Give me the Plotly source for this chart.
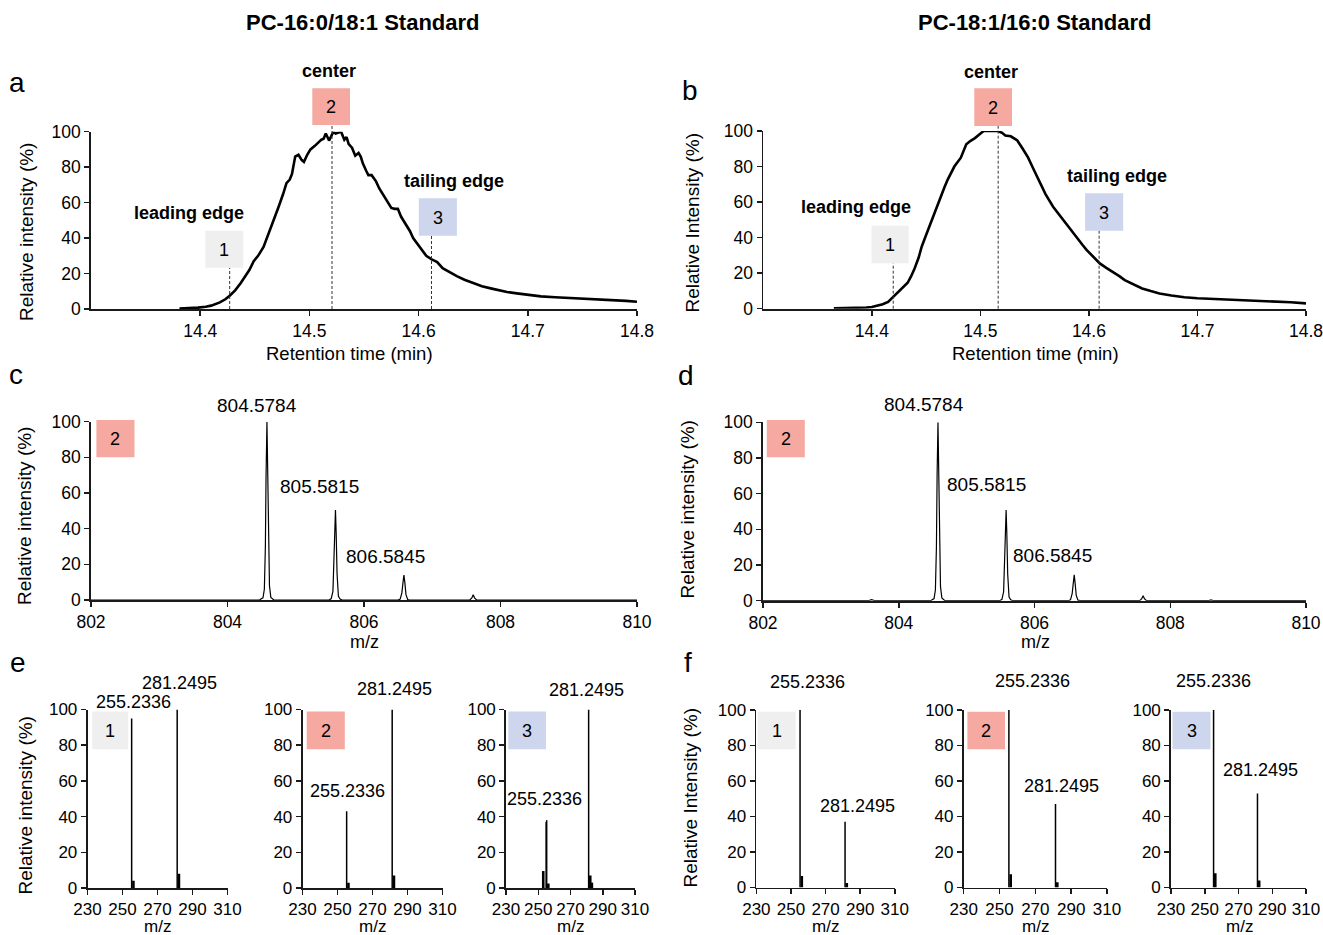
import plotly.graph_objects as go

W, H = 1323, 935
FONT = "Liberation Sans, Arial, Helvetica, sans-serif"

# ---------------- data ----------------
# panel a : PC-16:0/18:1 chromatogram
rt_a = [14.381, 14.390, 14.398, 14.405, 14.410, 14.418, 14.423, 14.427, 14.432, 14.437,
        14.441, 14.445, 14.449, 14.453, 14.458, 14.463, 14.468, 14.472, 14.476, 14.479,
        14.482, 14.484, 14.487, 14.490, 14.493, 14.495, 14.498, 14.501, 14.505, 14.508,
        14.511, 14.513, 14.515, 14.518, 14.520, 14.522, 14.524, 14.526, 14.529, 14.532,
        14.534, 14.536, 14.539, 14.542, 14.545, 14.547, 14.549, 14.552, 14.554, 14.557,
        14.559, 14.561, 14.564, 14.567, 14.570, 14.572, 14.575, 14.578, 14.581, 14.584,
        14.588, 14.592, 14.595, 14.598, 14.602, 14.607, 14.612, 14.617, 14.622, 14.629,
        14.635, 14.642, 14.650, 14.658, 14.667, 14.675, 14.681, 14.690, 14.700, 14.712,
        14.725, 14.740, 14.758, 14.775, 14.790, 14.800]
int_a = [0.3, 0.5, 0.8, 1.3, 1.9, 3.7, 5.5, 7.5, 10.5, 14.5,
         18, 22, 27, 30, 35, 43, 51, 58, 65, 71,
         73, 76, 86, 87, 84, 83, 87, 90, 92, 94,
         95.5, 96, 99, 95, 98, 100, 99, 99.5, 100, 95.5,
         97, 93, 91, 86.5, 88, 86, 82, 78, 75.5, 75.5,
         74, 72, 68, 65, 62, 59.5, 57, 56.5, 56.5, 52,
         48, 44, 40, 37.5, 34, 30, 28, 26.5, 23, 20.5,
         18.5, 16.5, 14.5, 12.8, 11.5, 10.3, 9.6, 8.8, 8.0, 7.1,
         6.6, 6.2, 5.7, 5.1, 4.6, 4.1]

# panel b : PC-18:1/16:0 chromatogram
rt_b = [14.365, 14.380, 14.388, 14.395, 14.400, 14.405, 14.410, 14.415, 14.420, 14.424,
        14.428, 14.433, 14.436, 14.439, 14.443, 14.446, 14.450, 14.454, 14.459, 14.464,
        14.467, 14.470, 14.473, 14.476, 14.482, 14.487, 14.491, 14.495, 14.499, 14.503,
        14.509, 14.516, 14.520, 14.523, 14.528, 14.534, 14.539, 14.544, 14.549, 14.554,
        14.560, 14.567, 14.573, 14.579, 14.584, 14.589, 14.594, 14.598, 14.604, 14.610,
        14.616, 14.622, 14.628, 14.633, 14.641, 14.649, 14.657, 14.665, 14.676, 14.688,
        14.700, 14.711, 14.730, 14.750, 14.770, 14.786, 14.800]
int_b = [0.2, 0.3, 0.4, 0.7, 1.0, 1.6, 2.5, 3.8, 6.8, 9.5,
         11.4, 14.6, 18, 22, 28.5, 35, 41.5, 48, 56, 64,
         68.5, 72.8, 76.5, 80, 85, 92.5, 94.5, 96, 98, 100,
         100, 100, 99, 97.5, 97, 94.7, 90, 85, 78.5, 71.9,
         64.5, 57.4, 52.5, 48, 43.5, 39.6, 36, 33, 29, 25.5,
         23, 20.8, 18.3, 16.1, 13.6, 11.4, 9.9, 8.6, 7.4, 6.4,
         5.9, 5.6, 5.2, 4.9, 4.2, 3.6, 3.0]

# panel c / d : MS1 profile spectra
mz_c = [802.00, 803.55, 803.60, 803.65, 804.47, 804.50, 804.52, 804.54, 804.555, 804.565,
        804.578, 804.59, 804.60, 804.615, 804.635, 804.655, 804.68, 805.49, 805.52, 805.545,
        805.56, 805.572, 805.582, 805.592, 805.605, 805.625, 805.65, 805.68, 806.50, 806.53,
        806.555, 806.572, 806.585, 806.598, 806.615, 806.64, 806.67, 807.55, 807.58, 807.60,
        807.62, 807.65, 808.56, 808.60, 808.64, 810.00]
int_c = [0, 0, 0.4, 0, 0, 0.8, 1.2, 6, 30, 70,
         100, 70, 35, 8, 1.5, 1.0, 0, 0, 0.8, 5,
         20, 38, 50.5, 38, 15, 2, 0.5, 0, 0, 0.5,
         4, 10, 14, 10, 3, 0.3, 0, 0, 1.2, 3,
         1.2, 0, 0, 0.4, 0, 0]
mz_d = [802.00, 803.55, 803.60, 803.65, 804.47, 804.50, 804.52, 804.54, 804.555, 804.565,
        804.578, 804.59, 804.60, 804.615, 804.635, 804.655, 804.68, 805.49, 805.52, 805.545,
        805.56, 805.572, 805.582, 805.592, 805.605, 805.625, 805.65, 805.68, 806.50, 806.53,
        806.555, 806.572, 806.585, 806.598, 806.615, 806.64, 806.67, 807.55, 807.58, 807.60,
        807.62, 807.65, 808.56, 808.60, 808.64, 810.00]
int_d = [0, 0, 0.6, 0, 0, 0.8, 1.2, 6, 30, 70,
         100, 70, 35, 8, 1.5, 1.0, 0, 0, 0.8, 5,
         20, 38, 50.8, 38, 15, 2, 0.5, 0, 0, 0.5,
         4, 10, 14.5, 10, 3, 0.3, 0, 0, 1.1, 2.8,
         1.1, 0, 0, 0.5, 0, 0]
peak_labels_cd = ["804.5784", "805.5815", "806.5845"]

# panels e / f : MS/MS stick spectra (m/z, relative intensity)
e1_mz = [255.23, 256.24, 281.25, 282.25]
e1_int = [95, 4, 100, 8]
e2_mz = [255.23, 256.24, 281.25, 282.25]
e2_int = [43, 3, 100, 7]
e3_mz = [253.1, 254.9, 255.23, 256.24, 281.25, 282.25, 283.25]
e3_int = [9.5, 37, 38, 2.5, 100, 7, 3]
f1_mz = [255.23, 256.24, 281.25, 282.25]
f1_int = [100, 6.5, 37, 2.5]
f2_mz = [255.23, 256.24, 281.25, 282.25]
f2_int = [100, 7.5, 47, 3]
f3_mz = [255.23, 256.24, 281.25, 282.25]
f3_int = [100, 8, 53, 4]
frag_labels = ["255.2336", "281.2495"]

rt_ticks = [14.4, 14.5, 14.6, 14.7, 14.8]
ms1_ticks = [802, 804, 806, 808, 810]
ms2_ticks = [230, 250, 270, 290, 310]
int_ticks = [0, 20, 40, 60, 80, 100]

# ---------------- layout helpers ----------------
def PX(x):
    return x / W

def PY(y):
    return 1 - y / H

# subplot pixel boxes (reference image pixels): (left, right, top, bottom)
panels = {
    1: dict(px=(91, 637, 131.7, 309), xr=[14.3, 14.8], xt=rt_ticks, fs=17.5),
    2: dict(px=(763.3, 1306, 131, 308.7), xr=[14.3, 14.8], xt=rt_ticks, fs=17.5),
    3: dict(px=(91, 637, 421.7, 600), xr=[802, 810], xt=ms1_ticks, fs=17.5),
    4: dict(px=(763, 1306, 422.3, 600.7), xr=[802, 810], xt=ms1_ticks, fs=17.5),
    5: dict(px=(87.5, 227.5, 709.5, 888), xr=[230, 310], xt=ms2_ticks, fs=17),
    6: dict(px=(302.5, 442.5, 709.5, 888), xr=[230, 310], xt=ms2_ticks, fs=17),
    7: dict(px=(506, 635, 709.5, 888), xr=[230, 310], xt=ms2_ticks, fs=17),
    8: dict(px=(756.4, 894.8, 710, 887.5), xr=[230, 310], xt=ms2_ticks, fs=17),
    9: dict(px=(963.7, 1107, 710, 887.5), xr=[230, 310], xt=ms2_ticks, fs=17),
    10: dict(px=(1171, 1306, 710, 887.5), xr=[230, 310], xt=ms2_ticks, fs=17),
}

def data_to_px(i, xv):
    p = panels[i]
    l, r = p['px'][0], p['px'][1]
    x0, x1 = p['xr']
    return l + (xv - x0) / (x1 - x0) * (r - l)

AX = '#1a1a1a'
layout = dict(width=W, height=H, autosize=False,
              margin=dict(l=0, r=0, t=0, b=0, pad=0, autoexpand=False),
              paper_bgcolor='white', plot_bgcolor='rgba(0,0,0,0)',
              showlegend=False, font=dict(family=FONT, color='black'))

for i, p in panels.items():
    l, r, t, b = p['px']
    sfx = '' if i == 1 else str(i)
    common = dict(showline=True, linecolor=AX, linewidth=1.8, ticks='outside', ticklen=5,
                  tickwidth=1.5, tickcolor=AX, showgrid=False, zeroline=False, automargin=False,
                  ticklabeloverflow='allow',
                  tickfont=dict(size=p['fs'], family=FONT, color='black'), fixedrange=True)
    layout['xaxis' + sfx] = dict(domain=[PX(l), PX(r)], range=p['xr'], tickvals=p['xt'],
                                 anchor='y' + sfx, **common)
    layout['yaxis' + sfx] = dict(domain=[PY(b), PY(t)], range=[0, 100], tickvals=int_ticks,
                                 anchor='x' + sfx, **common)

fig = go.Figure()

def add_line(i, x, y, width, color='black'):
    sfx = '' if i == 1 else str(i)
    fig.add_trace(go.Scatter(x=x, y=y, mode='lines', line=dict(color=color, width=width),
                             xaxis='x' + sfx, yaxis='y' + sfx, hoverinfo='skip'))

add_line(1, rt_a, int_a, 2.6)
add_line(2, rt_b, int_b, 2.6)
add_line(3, mz_c, int_c, 1.2)
add_line(4, mz_d, int_d, 1.2)

def add_sticks(i, mz, inten):
    xs, ys, xs2, ys2 = [], [], [], []
    for m, v in zip(mz, inten):
        if v >= 15:
            xs += [m, m, None]
            ys += [0, v, None]
        else:
            xs2 += [m, m, None]
            ys2 += [0, v, None]
    add_line(i, xs, ys, 1.5)
    add_line(i, xs2, ys2, 2.6)

add_sticks(5, e1_mz, e1_int)
add_sticks(6, e2_mz, e2_int)
add_sticks(7, e3_mz, e3_int)
add_sticks(8, f1_mz, f1_int)
add_sticks(9, f2_mz, f2_int)
add_sticks(10, f3_mz, f3_int)

# ---------------- annotations & shapes ----------------
anns = []
shapes = []

def text(s, x, y, size, bold=False, angle=0):
    anns.append(dict(text=('<b>%s</b>' % s) if bold else s, x=PX(x), y=PY(y),
                     xref='paper', yref='paper', showarrow=False, xanchor='center',
                     yanchor='middle', textangle=angle,
                     font=dict(size=size, family=FONT, color='black')))

C1, C2, C3 = '#efefef', '#f5a9a0', '#cdd6ec'

def box(num, color, l, r, t, b):
    shapes.append(dict(type='rect', xref='paper', yref='paper', x0=PX(l), x1=PX(r),
                       y0=PY(b), y1=PY(t), fillcolor=color, line=dict(width=0), layer='above'))
    text(num, (l + r) / 2, (t + b) / 2 + 0.5, 18)

def dash(i, xv, top):
    xp = data_to_px(i, xv)
    bottom = panels[i]['px'][3]
    shapes.append(dict(type='line', xref='paper', yref='paper', x0=PX(xp), x1=PX(xp),
                       y0=PY(bottom), y1=PY(top), line=dict(color='#333333', width=1, dash='3px,2px'),
                       layer='above'))

# titles
text('PC-16:0/18:1 Standard', 363, 22.5, 22, bold=True)
text('PC-18:1/16:0 Standard', 1035, 22.5, 22, bold=True)
# panel letters
for s, x, y in [('a', 17, 83), ('b', 689.5, 90.5), ('c', 16, 374), ('d', 686, 375.5),
                ('e', 18, 662), ('f', 688, 662)]:
    text(s, x, y, 28)

# panel a annotations
dash(1, 14.427, 267.7)
dash(1, 14.5207, 125)
dash(1, 14.6118, 235.7)
box('1', C1, 205.3, 243.3, 230.7, 267.7)
box('2', C2, 312.3, 350, 88.3, 125)
box('3', C3, 418.8, 456.9, 198.3, 235.7)
text('center', 329, 70.5, 18, bold=True)
text('leading edge', 189, 213, 18, bold=True)
text('tailing edge', 453.5, 180.5, 18, bold=True)

# panel b annotations
dash(2, 14.4197, 263.3)
dash(2, 14.5164, 126)
dash(2, 14.6094, 230.7)
box('1', C1, 871.5, 908.7, 225.7, 263.3)
box('2', C2, 974.3, 1012, 88.3, 126)
box('3', C3, 1085.1, 1123.2, 193.3, 230.7)
text('center', 991, 72, 18, bold=True)
text('leading edge', 855.5, 207, 18, bold=True)
text('tailing edge', 1117, 176, 18, bold=True)

# panel c / d
box('2', C2, 96.4, 134.5, 420, 457.3)
box('2', C2, 766.8, 804.8, 420, 457.3)
for s, (x, y) in zip(peak_labels_cd, [(256.5, 405.5), (319, 486), (385, 556)]):
    text(s, x, y, 19)
for s, (x, y) in zip(peak_labels_cd, [(924.2, 405), (986.6, 485), (1052, 555.5)]):
    text(s, x, y, 19)

# panel e / f boxes
box('1', C1, 92.2, 128.2, 711.5, 749.3)
box('2', C2, 306.7, 344.8, 711.5, 749.3)
box('3', C3, 508.3, 546, 711.5, 749.3)
box('1', C1, 757.7, 795.7, 711.7, 749.3)
box('2', C2, 967.4, 1005, 711.7, 749.3)
box('3', C3, 1172.5, 1210.5, 711.7, 749.3)

# fragment labels  (255.2336 , 281.2495)
frag_pos = [
    [(133.2, 702.3), (179.8, 683.3)],
    [(347.7, 790.7), (394.2, 689.3)],
    [(544.7, 799.3), (586.7, 689.5)],
    [(808, 681.7), (857.9, 806)],
    [(1032.1, 681), (1061.7, 786)],
    [(1213, 681), (1260.4, 770)],
]
for pos in frag_pos:
    for s, (x, y) in zip(frag_labels, pos):
        text(s, x, y, 18)

# axis titles
text('Retention time (min)', 349.5, 353.5, 18.5)
text('Retention time (min)', 1035.5, 353.5, 18.5)
text('m/z', 364, 641.5, 18)
text('m/z', 1035, 641.5, 18)
for x in [157, 372.5, 570.5, 825, 1035, 1239]:
    text('m/z', x, 926.5, 17)

text('Relative intensity (%)', 26, 232, 19, angle=-90)
text('Relative Intensity (%)', 691.5, 222, 19, angle=-90)
text('Relative intensity (%)', 24.5, 516.5, 19, angle=-90)
text('Relative intensity (%)', 687.5, 510, 19, angle=-90)
text('Relative intensity (%)', 24.5, 806, 19, angle=-90)
text('Relative Intensity (%)', 689.5, 798, 19, angle=-90)

layout['annotations'] = anns
layout['shapes'] = shapes
fig.update_layout(**layout)
# remove the browser's default 8 px page margin so the figure fills the window exactly
fig.write_html("out.html",
               config={'displayModeBar': False, 'staticPlot': True},
               post_script="document.body.style.margin='0px';document.body.style.overflow='hidden';")
